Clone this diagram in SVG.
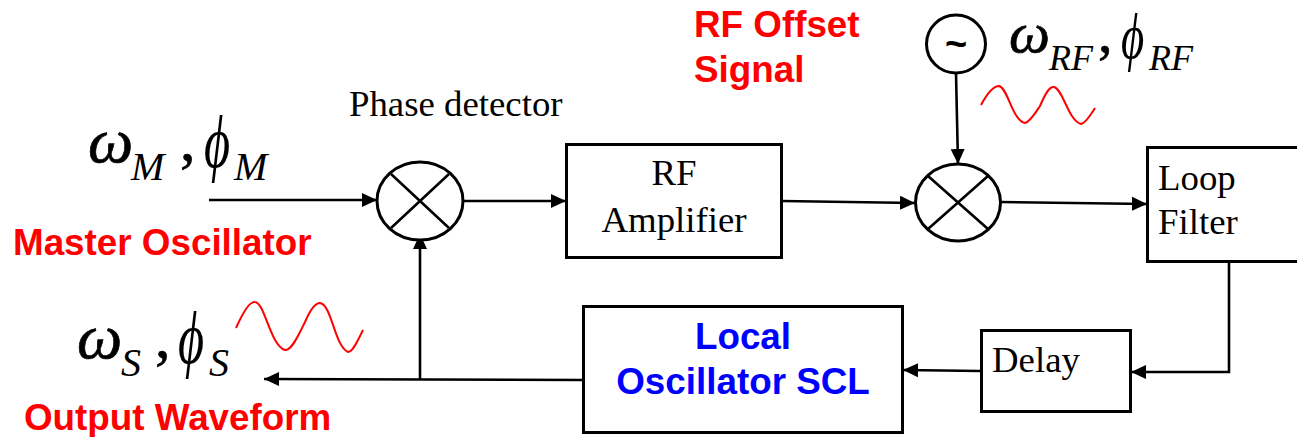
<svg xmlns="http://www.w3.org/2000/svg" width="1297" height="437" viewBox="0 0 1297 437">
<style>
.box{fill:#fff;stroke:#000;stroke-width:3}
.ln{fill:none;stroke:#000;stroke-width:2.6}
.conn{fill:none;stroke:#000;stroke-width:2.6;marker-end:url(#a)}
.wave{fill:none;stroke:#f00;stroke-width:2}
.s{font-family:"Liberation Serif",serif;font-size:36.800px;fill:#000}
.b{font-family:"Liberation Sans",sans-serif;font-weight:bold;font-size:36.800px;fill:#f00}
.bl{fill:#00f}
.g{font-family:"Liberation Serif",serif;font-style:italic;fill:#000;stroke:#000;stroke-width:.7;font-size:64px}
.p{font-size:68px;stroke:none}
.c{font-style:normal;font-size:62px}
.sub{font-family:"Liberation Serif",serif;font-style:italic;fill:#000;font-size:40px}
.r{font-size:36px}
</style>
<defs>
<marker id="a" markerUnits="userSpaceOnUse" markerWidth="16" markerHeight="16" refX="15" refY="8" orient="auto"><path d="M0,1 L15,8 L0,15 Z" fill="#000"/></marker>
</defs>
<g id="connectors">
<path class="conn" d="M209,200 H377"/>
<path class="conn" d="M463,201 H566"/>
<path class="conn" d="M782,201 L915,203"/>
<path class="conn" d="M1000,202 L1147,204"/>
<path class="conn" d="M956,73 L958,164"/>
<path class="conn" d="M1229,262 V372 H1131"/>
<path class="conn" d="M981,371 L903,370"/>
<path class="conn" d="M583,380 L264,379"/>
<path class="conn" d="M420,379 V234"/>
</g>
<g id="mixer1"><ellipse class="box" cx="420" cy="201" rx="43" ry="39"/><path class="ln" d="M391,174 L449,228 M449,174 L391,228"/></g>
<g id="mixer2"><ellipse class="box" cx="958" cy="202.500" rx="42.500" ry="38.500"/><path class="ln" d="M928,176 L988,229 M988,176 L928,229"/></g>
<g id="rf-osc"><ellipse class="box" cx="956" cy="44" rx="29.500" ry="29"/><text x="956" y="57" text-anchor="middle" style="font-family:'Liberation Sans',sans-serif;font-weight:bold;font-size:38px">~</text></g>
<g id="rf-amp"><rect class="box" x="566.500" y="144.500" width="215" height="113"/><text class="s" x="674" y="185" text-anchor="middle">RF</text><text class="s" x="674" y="232" text-anchor="middle">Amplifier</text></g>
<g id="loop-filter"><rect class="box" x="1147.500" y="147.500" width="152" height="114"/><text class="s" x="1158" y="190">Loop</text><text class="s" x="1158" y="234">Filter</text></g>
<g id="delay"><rect class="box" x="981.500" y="330.500" width="149" height="81"/><text class="s" x="992" y="372">Delay</text></g>
<g id="local-osc"><rect class="box" x="583.500" y="306.500" width="319" height="126"/><text class="b bl" x="743" y="349" text-anchor="middle">Local</text><text class="b bl" x="743" y="394" text-anchor="middle">Oscillator SCL</text></g>
<g id="phase-label"><text class="s" x="349" y="116">Phase detector</text></g>
<g id="rf-label"><text class="b" x="694" y="37">RF Offset</text><text class="b" x="694" y="82">Signal</text></g>
<g id="master-label"><text class="g" x="88" y="162">ω</text><text class="sub" x="131" y="180">M</text><text class="g c" x="180" y="160">,</text><text class="g p" transform="translate(204,167) scale(.74,1.08)">ϕ</text><text class="sub" x="234" y="180">M</text><text class="b" x="13" y="255">Master Oscillator</text></g>
<g id="output-label"><text class="g" x="77" y="358">ω</text><text class="sub" x="121" y="376">S</text><text class="g c" x="155" y="357">,</text><text class="g p" transform="translate(178,363) scale(.74,1.08)">ϕ</text><text class="sub" x="209" y="376">S</text><text class="b" x="24" y="430">Output Waveform</text></g>
<g id="rf-symbol"><text class="g" style="font-size:58px" x="1009" y="52">ω</text><text class="sub r" x="1049" y="70">RF</text><text class="g c" style="font-size:58px" x="1098" y="52">,</text><text class="g p" style="font-size:64px" transform="translate(1121,58) scale(.7,1)">ϕ</text><text class="sub r" x="1149" y="70">RF</text></g>
<path class="wave" d="M236,328 C244,310 250,301 255,302 C265,303 270,345 285,350 C292,351 300,332 305,322 C311,308 316,303 320,303 C332,305 334,345 348,352 C353,352 358,340 363,330"/>
<path class="wave" d="M981,105 C988,92 994,86 999,86 C1008,88 1012,120 1025,123 C1030,122 1036,112 1040,106 C1046,92 1050,86 1054,87 C1063,89 1068,120 1081,124 C1086,123 1091,114 1095,108"/>
</svg>
